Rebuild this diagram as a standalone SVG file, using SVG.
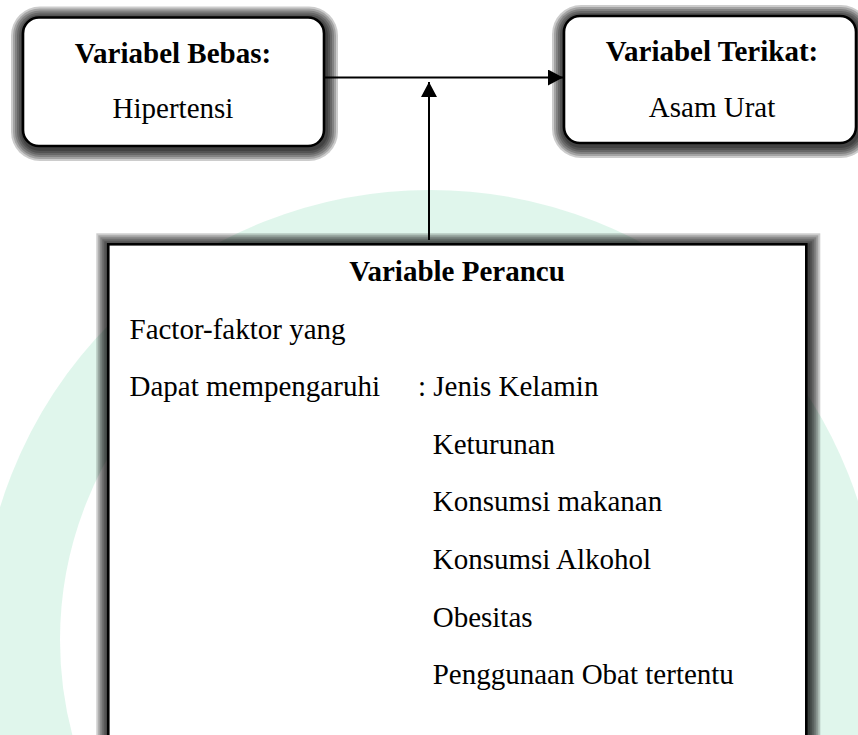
<svg xmlns="http://www.w3.org/2000/svg" width="858" height="735" viewBox="0 0 858 735">
  <defs>
    <style>
      .box { fill: #ffffff; stroke: #000000; stroke-width: 2.6; }
      .sh rect { fill: #000000; fill-opacity: 0.2; stroke: none; }
      .t { font-family: "Liberation Serif", "Times New Roman", serif; font-size: 29px; fill: #000000; }
      .b { font-weight: bold; }
      .c { text-anchor: middle; }
      .conn { fill: none; stroke: #000000; stroke-width: 2; }
    </style>
    <marker id="arrow" markerUnits="userSpaceOnUse" markerWidth="16" markerHeight="16" refX="15" refY="8" orient="auto">
      <path d="M0,0 L15,8 L0,16 Z" fill="#000000"/>
    </marker>
  </defs>

  <rect width="858" height="735" fill="#ffffff"/>

  <!-- faint background watermark ring -->
  <ellipse cx="430" cy="640" rx="410" ry="410" fill="none" stroke="#c6eedc" stroke-width="80" opacity="0.55"/>

  <g id="connectors">
    <line class="conn" x1="324" y1="77.5" x2="563" y2="77.5" marker-end="url(#arrow)"/>
    <line class="conn" x1="429" y1="240" x2="429" y2="82" marker-end="url(#arrow)"/>
  </g>

  <g id="node-bebas">
    <g class="sh">
      <rect x="11" y="6.5" width="327" height="154.5" rx="29"/>
      <rect x="13" y="8.5" width="323" height="150.5" rx="27"/>
      <rect x="15" y="10.5" width="319" height="146.5" rx="25"/>
      <rect x="17" y="12.5" width="315" height="142.5" rx="23"/>
      <rect x="19" y="14.5" width="311" height="138.5" rx="21"/>
      <rect x="21" y="16.5" width="307" height="134.5" rx="19"/>
    </g>
    <rect class="box" x="23" y="17.5" width="301" height="128.5" rx="16" ry="16"/>
    <text class="t b c" x="173" y="63">Variabel Bebas:</text>
    <text class="t c" x="173" y="118">Hipertensi</text>
  </g>

  <g id="node-terikat">
    <g class="sh">
      <rect x="552" y="5" width="318" height="153" rx="29"/>
      <rect x="554" y="7" width="314" height="149" rx="27"/>
      <rect x="556" y="9" width="310" height="145" rx="25"/>
      <rect x="558" y="11" width="306" height="141" rx="23"/>
      <rect x="560" y="13" width="302" height="137" rx="21"/>
      <rect x="562" y="15" width="298" height="133" rx="19"/>
    </g>
    <rect class="box" x="564" y="16" width="292" height="127" rx="16" ry="16"/>
    <text class="t b c" x="712" y="61">Variabel Terikat:</text>
    <text class="t c" x="712" y="117">Asam Urat</text>
  </g>

  <g id="node-perancu">
    <g class="sh">
      <rect x="96.3" y="233.3" width="724" height="546"/>
      <rect x="98.3" y="235.3" width="720" height="542"/>
      <rect x="100.3" y="237.3" width="716" height="538"/>
      <rect x="102.3" y="239.3" width="712" height="534"/>
      <rect x="104.3" y="241.3" width="708" height="530"/>
      <rect x="106.3" y="243.3" width="704" height="526"/>
    </g>
    <rect class="box" x="108.3" y="244.3" width="698" height="520"/>
    <text class="t b c" x="457" y="281">Variable Perancu</text>
    <text class="t" x="129.5" y="338.6">Factor-faktor yang</text>
    <text class="t" x="129.5" y="396.2">Dapat mempengaruhi</text>
    <text class="t" x="418" y="396.2">: Jenis Kelamin</text>
    <text class="t" x="432.7" y="453.8">Keturunan</text>
    <text class="t" x="432.7" y="511.4">Konsumsi makanan</text>
    <text class="t" x="432.7" y="569">Konsumsi Alkohol</text>
    <text class="t" x="432.7" y="626.6">Obesitas</text>
    <text class="t" x="432.7" y="684.2">Penggunaan Obat tertentu</text>
  </g>
</svg>
